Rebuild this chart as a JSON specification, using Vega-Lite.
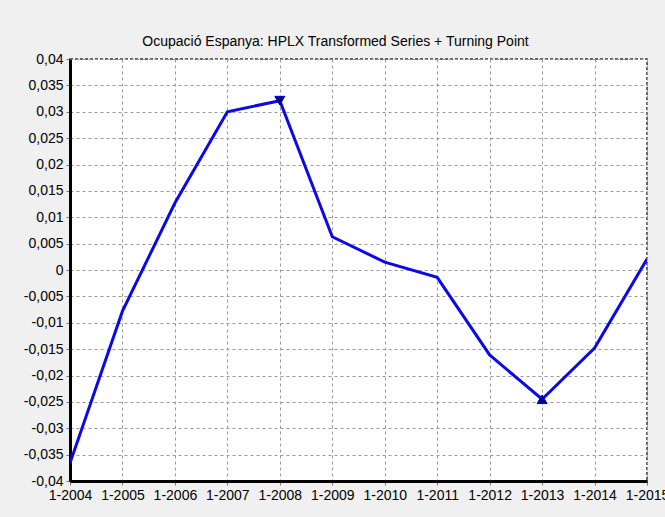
{
  "$schema": "https://vega.github.io/schema/vega-lite/v6.json",
  "autosize": {"type": "none"},
  "width": 577,
  "height": 422,
  "padding": {"left": 70, "top": 59, "right": 18, "bottom": 36},
  "background": "#f0f0f0",
  "title": {
    "text": "Ocupació Espanya: HPLX Transformed Series + Turning Point",
    "font": "Liberation Sans",
    "fontSize": 14,
    "fontWeight": "normal",
    "color": "#000000",
    "anchor": "middle",
    "dx": -23,
    "offset": 3
  },
  "config": {
    "view": {"fill": "#ffffff", "stroke": "#333333", "strokeDash": [3, 2], "strokeWidth": 1.5},
    "axis": {
      "labelFont": "Liberation Sans",
      "labelFontSize": 14,
      "labelColor": "#000000",
      "labelOverlap": false,
      "gridColor": "#999999",
      "gridDash": [3, 3],
      "gridOpacity": 1,
      "gridWidth": 1,
      "tickColor": "#777777",
      "tickSize": 4,
      "domainColor": "#000000",
      "domainWidth": 3,
      "title": null
    }
  },
  "datasets": {
    "series": [
      {"year": 2004, "value": -0.0366},
      {"year": 2005, "value": -0.0078},
      {"year": 2006, "value": 0.0127},
      {"year": 2007, "value": 0.0300},
      {"year": 2008, "value": 0.0321},
      {"year": 2009, "value": 0.0063},
      {"year": 2010, "value": 0.0015},
      {"year": 2011, "value": -0.0014},
      {"year": 2012, "value": -0.0161},
      {"year": 2013, "value": -0.0245},
      {"year": 2014, "value": -0.0148},
      {"year": 2015, "value": 0.0021}
    ],
    "turning": [
      {"year": 2008, "value": 0.0321, "type": "peak"},
      {"year": 2013, "value": -0.0245, "type": "trough"}
    ]
  },
  "encoding": {
    "x": {
      "field": "year",
      "type": "quantitative",
      "scale": {"domain": [2004, 2015], "nice": false, "zero": false},
      "axis": {
        "values": [2004, 2005, 2006, 2007, 2008, 2009, 2010, 2011, 2012, 2013, 2014, 2015],
        "labelExpr": "'1-' + datum.value",
        "labelFont": "Liberation Sans",
        "labelFontSize": 14,
        "labelFlush": false,
        "labelOverlap": false,
        "labelPadding": 3
      }
    },
    "y": {
      "field": "value",
      "type": "quantitative",
      "scale": {"domain": [-0.04, 0.04], "nice": false, "zero": false},
      "axis": {
        "values": [-0.04, -0.035, -0.03, -0.025, -0.02, -0.015, -0.01, -0.005, 0, 0.005, 0.01, 0.015, 0.02, 0.025, 0.03, 0.035, 0.04],
        "labelExpr": "replace(replace(format(datum.value, '.3~f'), '.', ','), '\u2212', '-')",
        "labelFont": "Liberation Sans",
        "labelFontSize": 14,
        "labelOverlap": false,
        "labelPadding": 3
      }
    }
  },
  "layer": [
    {
      "data": {"name": "series"},
      "mark": {"type": "line", "color": "#0a0ae6", "strokeWidth": 3, "clip": true}
    },
    {
      "data": {"name": "turning"},
      "mark": {"type": "point", "filled": true, "color": "#00008b", "size": 100, "opacity": 1, "stroke": "#0000cc", "strokeWidth": 1},
      "encoding": {
        "shape": {
          "field": "type",
          "type": "nominal",
          "scale": {"domain": ["peak", "trough"], "range": ["triangle-down", "triangle-up"]},
          "legend": null
        }
      }
    }
  ]
}
